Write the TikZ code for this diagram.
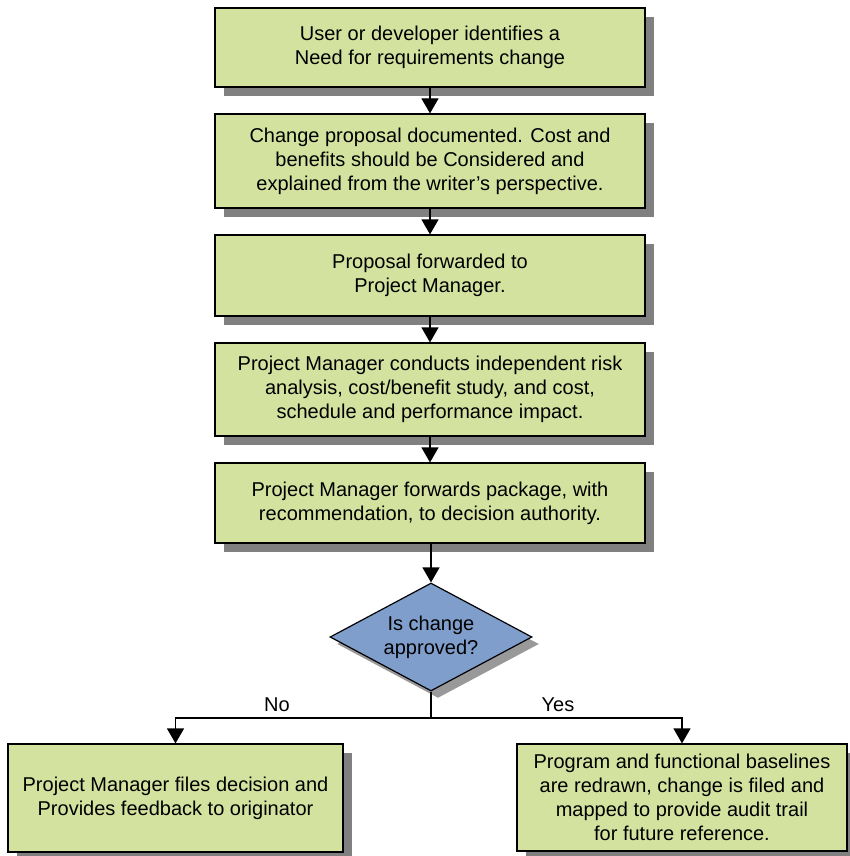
\documentclass[tikz,border=0pt]{standalone}
\usepackage{fontspec}
\setmainfont{Liberation Sans}
\usetikzlibrary{shapes.geometric,shadows,arrows.meta}
\definecolor{boxgreen}{RGB}{212,226,160}
\definecolor{diablue}{RGB}{127,158,204}
\definecolor{shadowgray}{RGB}{128,128,128}
\tikzset{
  stepbox/.style={draw=black, line width=1.2pt, fill=boxgreen, inner sep=0pt, align=center,
    font=\fontsize{20}{24}\selectfont,
    drop shadow={shadow xshift=9pt, shadow yshift=-9pt, fill=shadowgray, opacity=1}},
  decision/.style={draw=black, line width=1.2pt, fill=diablue, shape=diamond, inner sep=0pt,
    aspect=1.87, minimum width=202pt, minimum height=108pt, align=center,
    font=\fontsize{20}{24}\selectfont,
    drop shadow={shadow xshift=7pt, shadow yshift=-7pt, fill=shadowgray!80, opacity=1}},
  arr/.style={draw=black, line width=1.2pt, -{Triangle[width=17pt,length=15pt]}},
  lbl/.style={font=\fontsize{20}{24}\selectfont, inner sep=0pt}
}
\begin{document}
\begin{tikzpicture}[x=1pt,y=-1pt]
\useasboundingbox (0,0) rectangle (849,856);
\node[stepbox, minimum width=430pt, minimum height=79pt] (b1) at (430,47.5)
  {User or developer identifies a\\Need for requirements change};
\node[stepbox, minimum width=430pt, minimum height=94pt] (b2) at (430,161)
  {Change proposal documented. Cost and\\benefits should be Considered and\\explained from the writer’s perspective.};
\node[stepbox, minimum width=430pt, minimum height=81pt] (b3) at (430,275.5)
  {Proposal forwarded to\\Project Manager.};
\node[stepbox, minimum width=430pt, minimum height=93pt] (b4) at (430,389.5)
  {Project Manager conducts independent risk\\analysis, cost/benefit study, and cost,\\schedule and performance impact.};
\node[stepbox, minimum width=430pt, minimum height=80pt] (b5) at (430,503)
  {Project Manager forwards package, with\\recommendation, to decision authority.};
\node[decision] (d) at (431,637) {Is change\\approved?};
\node[stepbox, minimum width=335pt, minimum height=108pt] (bl) at (175.5,798)
  {Project Manager files decision and\\Provides feedback to originator};
\node[stepbox, minimum width=330pt, minimum height=107pt] (br) at (682,797.5)
  {Program and functional baselines\\are redrawn, change is filed and\\mapped to provide audit trail\\for future reference.};
\draw[arr] (b1) -- (b2);
\draw[arr] (b2) -- (b3);
\draw[arr] (b3) -- (b4);
\draw[arr] (b4) -- (b5);
\draw[arr] (b5.south -| d.north) -- (d.north);
\coordinate (split) at (431,718);
\draw[line width=1.2pt] (d.south) -- (split);
\draw[arr] (split) -| (bl.north);
\draw[arr] (split) -| (br.north);
\node[lbl] (no) at (277,705) {No};
\node[lbl] (yes) at (558,705) {Yes};
\end{tikzpicture}
\end{document}
